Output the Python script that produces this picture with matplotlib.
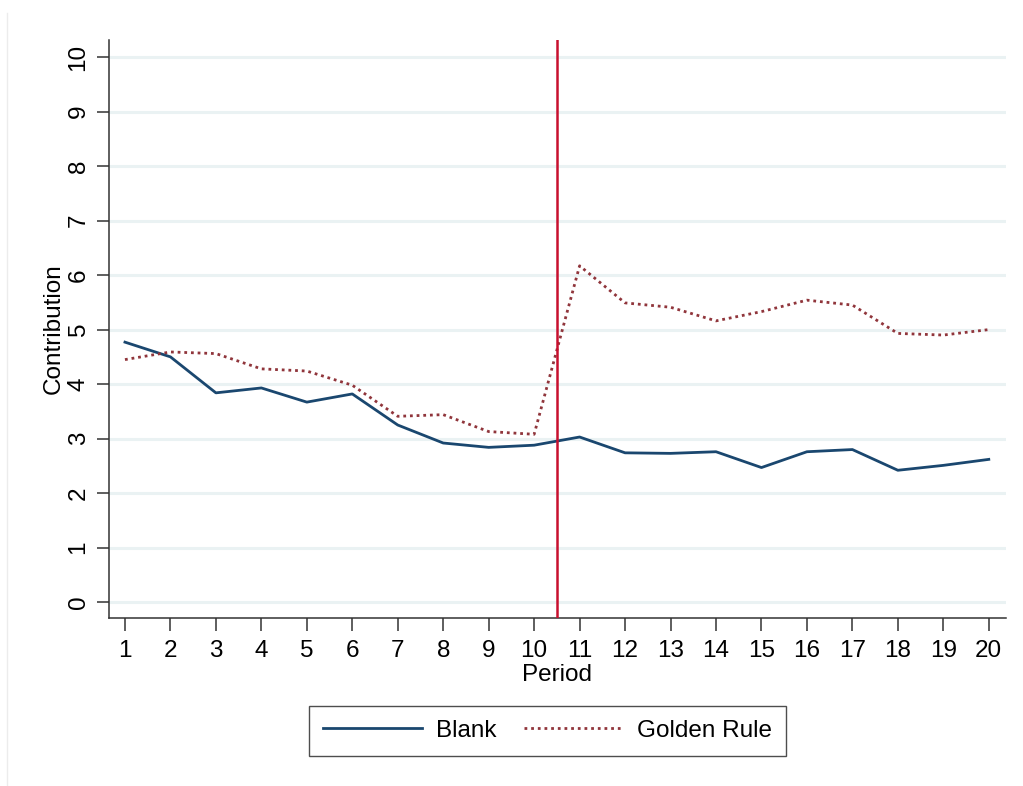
import matplotlib
matplotlib.use("Agg")
import matplotlib.pyplot as plt
from matplotlib.lines import Line2D

plt.rcParams['font.family'] = ['Liberation Sans', 'DejaVu Sans']

# --- data ---
periods = list(range(1, 21))
blank = [4.77, 4.50, 3.84, 3.93, 3.67, 3.82, 3.25, 2.92, 2.84, 2.88,
         3.03, 2.74, 2.73, 2.76, 2.47, 2.76, 2.80, 2.42, 2.51, 2.62]
golden_rule = [4.45, 4.59, 4.56, 4.28, 4.24, 3.98, 3.41, 3.44, 3.13, 3.08,
               6.17, 5.49, 5.41, 5.16, 5.33, 5.54, 5.45, 4.93, 4.90, 5.00]
y_ticks = list(range(0, 11))
treatment_break = 10.5

FS = 17.5

fig = plt.figure(figsize=(10.23, 7.86), dpi=100)
ax = fig.add_axes([0.1066, 0.2137, 0.8764, 0.7353])

for y in y_ticks:
    ax.axhline(y, color='#eaf2f3', lw=2.2, zorder=0)

ax.plot(periods, blank, color='#1a476f', lw=2.0, label='Blank', zorder=3)
ax.plot(periods, golden_rule, color='#90353b', lw=2.0, ls=(0, (1, 1.4)),
        label='Golden Rule', zorder=3)
ax.axvline(treatment_break, color='#c8102e', lw=1.8, zorder=4)

ax.set_xlim(0.65, 20.37)
ax.set_ylim(-0.29, 10.31)
ax.set_xticks(periods)
ax.set_yticks(y_ticks)
ax.tick_params(axis='both', labelsize=FS, length=9, width=1.1, color='#333333')
ax.tick_params(axis='x', pad=7)
ax.tick_params(axis='y', pad=5)
for lab in ax.get_yticklabels():
    lab.set_rotation(90)
    lab.set_va('center')

for side in ['top', 'right']:
    ax.spines[side].set_visible(False)
for side in ['left', 'bottom']:
    ax.spines[side].set_color('#333333')
    ax.spines[side].set_linewidth(1.1)

ax.set_xlabel('Period', fontsize=FS, labelpad=1)
ax.set_ylabel('Contribution', fontsize=FS, labelpad=2)

leg = ax.legend(loc='upper center', bbox_to_anchor=(0.489, -0.152), ncol=2,
                fontsize=FS, frameon=True, fancybox=False, handlelength=4.1,
                columnspacing=1.1, borderpad=0.57, handletextpad=0.58,
                borderaxespad=0)
leg.get_frame().set_edgecolor('#222222')
leg.get_frame().set_linewidth(1.0)

# faint outer edge of the graph region
fig.add_artist(Line2D([7 / 1023, 7 / 1023], [0, 1 - 13 / 786],
                      transform=fig.transFigure, color='#ececec', lw=1.0))

fig.savefig('out.png', dpi=100, facecolor='white')
